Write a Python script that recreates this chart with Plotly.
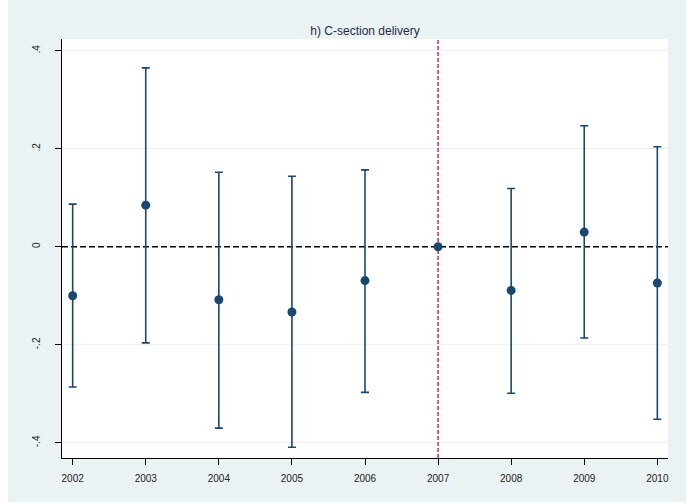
import plotly.graph_objects as go

# Event-study estimates for C-section delivery (reference year 2007)
years = [2002, 2003, 2004, 2005, 2006, 2007, 2008, 2009, 2010]
coef = [-0.100, 0.085, -0.108, -0.133, -0.069, 0.0, -0.089, 0.030, -0.074]
ci_upper = [0.087, 0.365, 0.152, 0.144, 0.157, 0.0, 0.119, 0.247, 0.204]
ci_lower = [-0.286, -0.196, -0.370, -0.409, -0.297, 0.0, -0.299, -0.186, -0.352]

y_ticks = [-0.4, -0.2, 0, 0.2, 0.4]
y_tick_labels = ["-.4", "-.2", "0", ".2", ".4"]
ref_year = 2007

x_range = [2001.854, 2010.146]
y_range = [-0.431, 0.424]

navy = "#1A476F"
red = "#D7194F"
outer_bg = "#EAF2F3"
font_family = "Liberation Sans, Arial, sans-serif"

err_plus = [u - c for u, c in zip(ci_upper, coef)]
err_minus = [c - l for c, l in zip(coef, ci_lower)]

fig = go.Figure()

# Zero reference line and treatment-year marker, drawn under the estimates
fig.add_trace(go.Scatter(
    x=x_range, y=[0, 0], mode="lines",
    line=dict(color="black", width=1.6, dash="6px,3px"),
    hoverinfo="skip", showlegend=False,
))
fig.add_trace(go.Scatter(
    x=[ref_year, ref_year], y=y_range, mode="lines",
    line=dict(color=red, width=1.4, dash="4px,2px"),
    hoverinfo="skip", showlegend=False,
))

fig.add_trace(go.Scatter(
    x=years, y=coef, mode="markers",
    marker=dict(color=navy, size=9),
    error_y=dict(type="data", symmetric=False, array=err_plus,
                 arrayminus=err_minus, color=navy, thickness=1.6, width=4),
    showlegend=False,
))

# Graph region background and white plot region
fig.add_shape(type="rect", xref="paper", yref="paper",
              x0=-0.0891, x1=1.0297, y0=-0.105, y1=1.093,
              fillcolor=outer_bg, line=dict(width=0), layer="below")
fig.add_shape(type="rect", xref="paper", yref="paper",
              x0=0, x1=1, y0=0, y1=1,
              fillcolor="white", line=dict(width=0), layer="below")

fig.update_layout(
    width=691, height=504,
    margin=dict(l=62, r=23, t=39, b=46),
    paper_bgcolor="white", plot_bgcolor="white",
    font=dict(family=font_family, size=10, color="#222"),
    title=dict(text="h) C-section delivery", x=0.5, xref="paper",
               y=1 - 31 / 504, yref="container", yanchor="middle",
               xanchor="center",
               font=dict(family=font_family, size=12, color="#1e2a44")),
)

fig.update_xaxes(
    range=x_range, tickmode="array", tickvals=years,
    ticktext=[str(y) for y in years],
    showgrid=False, zeroline=False,
    showline=True, linecolor="black", linewidth=1,
    ticks="outside", ticklen=6, tickcolor="black", tickwidth=1,
    ticklabelstandoff=5,
    tickfont=dict(size=10, color="#222"),
)
fig.update_yaxes(
    range=y_range, tickmode="array", tickvals=y_ticks,
    ticktext=y_tick_labels, tickangle=-90,
    showgrid=True, gridcolor=outer_bg, gridwidth=1.2, zeroline=False,
    showline=True, linecolor="black", linewidth=1,
    ticks="outside", ticklen=6, tickcolor="black", tickwidth=1,
    ticklabelstandoff=11,
    tickfont=dict(size=10, color="#222"),
)

fig.write_html("out.html")
